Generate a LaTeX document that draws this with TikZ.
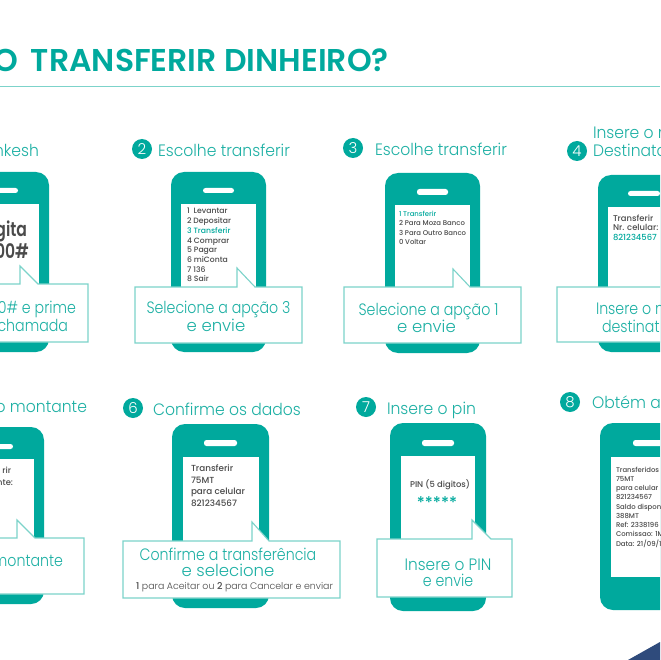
\documentclass[tikz,border=0pt]{standalone}
\usepackage{fontspec}
\setmainfont{Poppins}
\newfontfamily\lightf{Poppins Light}
\newfontfamily\headf[FakeStretch=0.945]{Poppins Light}
\newfontfamily\callf[FakeStretch=0.86]{Poppins Light}
\newfontfamily\pinf[FakeStretch=0.93]{Poppins Light}
\newfontfamily\medf{Poppins Medium}
\newfontfamily\semif{Poppins SemiBold}
\newfontfamily\tightf[FakeStretch=0.78]{Poppins SemiBold}
\definecolor{teal1}{HTML}{00A99D}
\definecolor{teal2}{HTML}{1DB0A4}
\definecolor{edge1}{HTML}{7CD3CA}
\definecolor{ink}{HTML}{4A4A4A}
\definecolor{navy1}{HTML}{2F4B7C}
\tikzset{
 lab/.style={inner sep=0pt,outer sep=0pt,text=teal2,font=\callf\fontsize{16.5}{18}\selectfont},
 lw/.style={lab,anchor=base west},
 le/.style={lab,anchor=base east},
 lc/.style={lab,anchor=base},
 head/.style={font=\headf\fontsize{16.5}{18}\selectfont},
 wide/.style={font=\lightf\fontsize{16.5}{18}\selectfont},
 scr/.style={inner sep=0pt,outer sep=0pt,anchor=base west,text=ink,font=\medf\fontsize{7.7}{9}\selectfont},
 scrs/.style={scr,font=\medf\fontsize{6.9}{9}\selectfont},
 scrl/.style={scr,font=\medf\fontsize{8.4}{9}\selectfont},
 scrx/.style={scr,font=\medf\fontsize{8.8}{9}\selectfont},
 big/.style={scr,anchor=base east,font=\tightf\fontsize{20}{20}\selectfont},
 badge/.style={circle,fill=teal1,text=white,minimum size=20pt,inner sep=0pt,font=\lightf\fontsize{15}{15}\selectfont},
 body/.style={fill=teal1,rounded corners=13pt},
 glass/.style={fill=white},
 speaker/.style={fill=white,rounded corners=2.5pt},
 bubble/.style={fill=white,draw=edge1,line width=1.1pt,line join=miter},
}
\newcommand{\phoneshape}[9]{%
 \fill[body] (#2,#3) rectangle (#4,#5);
 \fill[glass] (#6,#7) rectangle (#8,#9);
}
\newcommand{\speakershape}[4]{\fill[speaker] (#1,#2) rectangle (#3,#4);}
\newcommand{\bubbleshape}[7]{%
 \draw[bubble] (#1,#2) -- (#5,#2) -- (#5,#6) -- (#7,#2) -- (#3,#2) -- (#3,#4) -- (#1,#4) -- cycle;
}
\begin{document}
\begin{tikzpicture}[x=1pt,y=-1pt]
\useasboundingbox (0,0) rectangle (660,660);
\clip (0,0) rectangle (660,660);
\fill[white] (0,0) rectangle (660,660);
% title
\node[anchor=base east,inner sep=0pt,text=teal1,font=\semif\fontsize{31.5}{34}\selectfont] (title) at (389,72) {O\hspace{5pt} TRANSFERIR DINHEIRO?};
\coordinate (ruleL) at (0,87); \coordinate (ruleR) at (660,87);
\draw[edge1,line width=1pt] (ruleL) -- (ruleR);
% corner
\fill[navy1] (628,660) -- (660,642) -- (660,660) -- cycle;

% phone 1
\phoneshape{p1}{-46}{172}{49}{352}{-36}{204}{39}{300}
\speakershape{-13}{188}{18}{193}
\node[big] (s1a) at (27,236) {gita};
\node[big] (s1b) at (29,258) {00\#};
\bubbleshape{-60}{284}{88}{342}{20}{266}{38}
\node[le] (c1a) at (76,313) {0\# e prime};
\node[le] (c1b) at (68,331) {chamada};
\node[le,head] (t1) at (39,157) {nkesh};

% phone 2
\phoneshape{p2}{171}{172}{266}{352}{181}{204}{256}{300}
\speakershape{203}{188}{234}{193}
\node[scr] (s2a) at (187,214) {1\ \ Levantar};
\node[scr] (s2b) at (187,223.7) {2 Depositar};
\node[scr,text=teal1] (s2c) at (187,233.4) {3 Transferir};
\node[scr] (s2d) at (187,243.1) {4 Comprar};
\node[scr] (s2e) at (187,252.8) {5 Pagar};
\node[scr] (s2f) at (187,262.5) {6 miConta};
\node[scr] (s2g) at (187,272.2) {7 136};
\node[scr] (s2h) at (187,281.9) {8 Sair};
\bubbleshape{135}{287}{302}{343}{237}{268}{255}
\node[lc] (c2a) at (218.5,313) {Selecione a apção 3};
\node[lc,wide] (c2b) at (216,331) {e envie};
\node[badge] (b2) at (142,149) {2};
\node[lw,head] (t2) at (158,157) {Escolhe transferir};

% phone 3
\phoneshape{p3}{385}{173}{480}{353}{395}{205}{470}{300}
\speakershape{417}{189}{448}{195}
\node[scrs,text=teal1] (s3a) at (399,216) {1 Transferir};
\node[scrs] (s3b) at (399,225.6) {2 Para Moza Banco};
\node[scrs] (s3c) at (399,235.2) {3 Para Outro Banco};
\node[scrs] (s3d) at (399,244.8) {0 Voltar};
\bubbleshape{344}{287}{521}{343}{453}{269}{470}
\node[lc] (c3a) at (428.5,315) {Selecione a apção 1};
\node[lc,wide] (c3b) at (426.5,332) {e envie};
\node[badge] (b3) at (353,148) {3};
\node[lw,head] (t3) at (375,156) {Escolhe transferir};

% phone 4
\phoneshape{p4}{598}{175}{693}{352}{608}{207}{683}{300}
\speakershape{628}{191}{660}{196}
\node[scrl] (s4a) at (613,221) {Transferir};
\node[scrl] (s4b) at (613,230.3) {Nr. celular:};
\node[scrl,text=teal1] (s4c) at (613,240) {821234567};
\bubbleshape{557}{287}{720}{342}{680}{268}{698}
\node[lw] (c4a) at (596,314) {Insere o n};
\node[lw] (c4b) at (602,332) {destinat};
\node[badge] (b4) at (577,151) {4};
\node[lw,head] (t4a) at (593,139) {Insere o n};
\node[lw,head] (t4b) at (593,157) {Destinata};

% phone 5
\phoneshape{p5}{-52}{427}{44}{604}{-42}{459}{34}{560}
\speakershape{-19}{444}{13}{449}
\node[scrl,anchor=base east] (s5a) at (11,473) {rir};
\node[scrl,anchor=base east] (s5b) at (13,485) {nte:};
\bubbleshape{-60}{538}{84}{594}{17}{520}{35}
\node[le] (c5) at (63,566) {montante};
\node[le,head] (t5) at (87,412) {o montante};

% phone 6
\phoneshape{p6}{172}{424}{269}{608}{183}{457}{259}{560}
\speakershape{204}{440}{237}{446}
\node[scrx] (s6a) at (191,471) {Transferir};
\node[scrx] (s6b) at (191,483) {75MT};
\node[scrx] (s6c) at (191,494) {para celular};
\node[scrx] (s6d) at (191,506) {821234567};
\bubbleshape{123}{541}{340}{598}{252}{522}{269}
\node[lc] (c6a) at (228,560) {Confirme a transferência};
\node[lc,wide] (c6b) at (228,576) {e selecione};
\node[lc,text=ink,font=\lightf\fontsize{9.4}{10}\selectfont] (c6c) at (234.5,589) {{\medf 1} para Aceitar ou {\medf 2} para Cancelar e enviar};
\node[badge] (b6) at (133,408) {6};
\node[lw,head] (t6) at (153,415) {Confirme os dados};

% phone 7
\phoneshape{p7}{390}{423}{486}{611}{401}{456}{475}{560}
\speakershape{422}{440}{454}{446}
\node[scrl] (s7a) at (410,487) {PIN (5 digitos)};
\node[scr,text=teal1,anchor=base,font=\medf\fontsize{16}{16}\selectfont] (s7b) at (437,508) {*****};
\bubbleshape{377}{539}{512}{597}{472}{520}{491}
\node[lc,font=\pinf\fontsize{16.5}{18}\selectfont] (c7a) at (448,570) {Insere o PIN};
\node[lc] (c7b) at (448,586) {e envie};
\node[badge] (b7) at (366,407) {7};
\node[lw,head] (t7) at (387,414) {Insere o pin};

% phone 8
\phoneshape{p8}{600}{423}{696}{610}{611}{457}{686}{577}
\speakershape{633}{440}{665}{446}
\node[scrs] (s8a) at (616,472) {Transferidos};
\node[scrs] (s8b) at (616,481) {75MT};
\node[scrs] (s8c) at (616,490.5) {para celular};
\node[scrs] (s8d) at (616,499.5) {821234567};
\node[scrs] (s8e) at (616,509) {Saldo disponi};
\node[scrs] (s8f) at (616,518) {388MT};
\node[scrs] (s8g) at (616,527.5) {Ref: 2338196};
\node[scrs] (s8h) at (616,536.5) {Comissao: 1M};
\node[scrs] (s8i) at (616,546) {Data: 21/09/1};
\node[badge] (b8) at (570,402) {8};
\node[lw,head] (t8) at (592,408) {Obtém a};
\end{tikzpicture}
\end{document}
